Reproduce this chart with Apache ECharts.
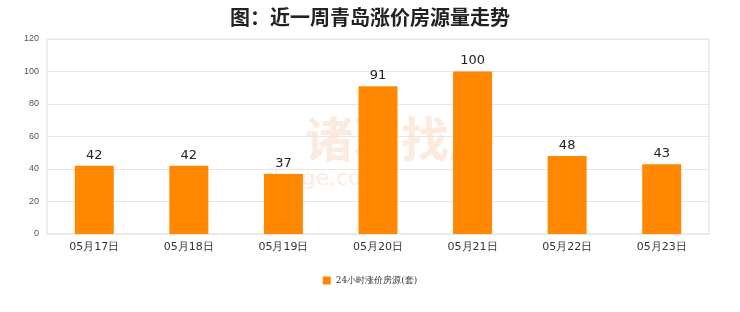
<!DOCTYPE html>
<html><head><meta charset="utf-8">
<script src="https://cdn.jsdelivr.net/npm/echarts@6/dist/echarts.min.js"></script>
<style>html,body{margin:0;padding:0;background:#fff}#c{width:740px;height:312px}</style>
</head><body><div id="c"></div>
<script>
const categories = ['05月17日','05月18日','05月19日','05月20日','05月21日','05月22日','05月23日'];
const values = [42, 42, 37, 91, 100, 48, 43];
const seriesName = '24小时涨价房源(套)';
const titleText = '图：近一周青岛涨价房源量走势';

const chart = echarts.init(document.getElementById('c'));
chart.setOption({
  animation: false,
  backgroundColor: '#fff',
  title: { text: titleText, left: 'center', top: 2,
    textStyle: { fontSize: 20, fontWeight: 'bold', color: '#222', fontFamily: 'Noto Sans CJK SC' } },
  graphic: [
    { type: 'text', left: 305, top: 115, z: 0, silent: true,
      style: { text: '诸葛找房', fontSize: 48, fontWeight: 'bold', fill: 'rgba(240,150,90,0.2)', fontFamily: 'Noto Sans CJK SC' } },
    { type: 'text', left: 262, top: 168, z: 0, silent: true,
      style: { text: 'zhuge.com', fontSize: 22, fill: 'rgba(240,150,90,0.2)', fontFamily: 'DejaVu Sans', letterSpacing: 9 } }
  ],
  legend: { bottom: 22, left: 'center', itemWidth: 8, itemHeight: 8, icon: 'rect',
    textStyle: { fontSize: 9, color: '#333', fontFamily: 'DejaVu Serif' }, data: [seriesName] },
  grid: { left: 47, right: 31, top: 39, bottom: 78, show: true, borderColor: '#ddd', borderWidth: 1 },
  xAxis: { type: 'category', data: categories,
    axisLine: { show: false }, axisTick: { show: false },
    axisLabel: { fontSize: 11, color: '#333', margin: 8, fontFamily: 'DejaVu Sans' } },
  yAxis: { type: 'value', min: 0, max: 120, interval: 20,
    axisLine: { show: false }, axisTick: { show: false },
    axisLabel: { fontSize: 9, color: '#555', margin: 8 },
    splitLine: { lineStyle: { color: '#e6e6e6' } } },
  series: [{ name: seriesName, type: 'bar', data: values, barWidth: 39,
    itemStyle: { color: '#ff8800' },
    label: { show: true, position: 'top', fontSize: 13, color: '#222', distance: 4, fontFamily: 'DejaVu Sans' } }]
});
</script></body></html>
